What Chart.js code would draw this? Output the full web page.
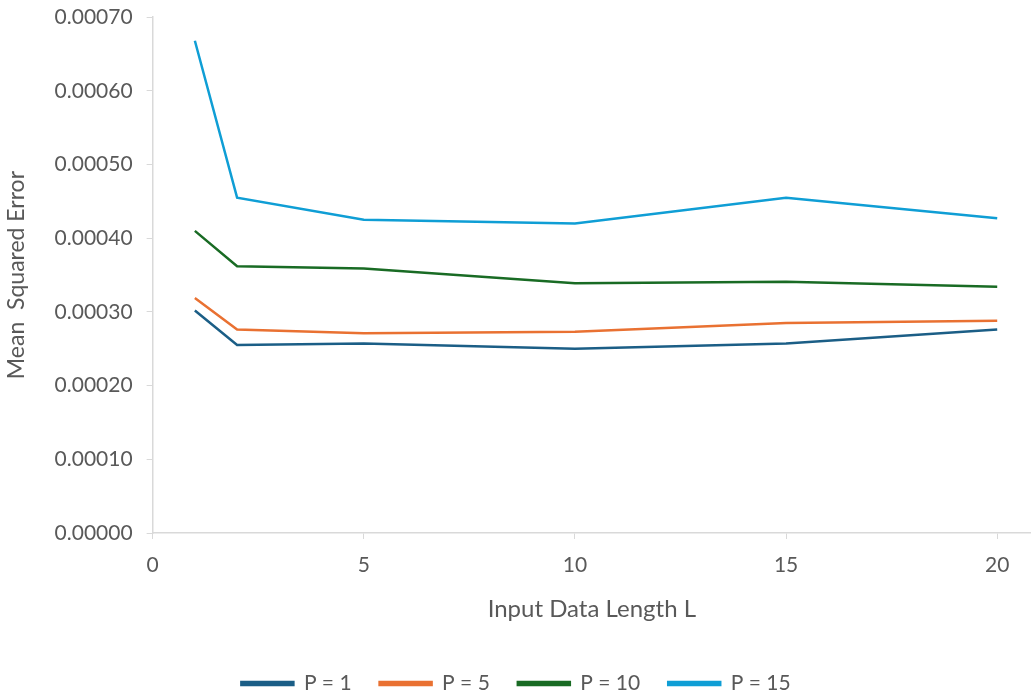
<!DOCTYPE html>
<html>
<head>
<meta charset="utf-8">
<script src="https://cdn.jsdelivr.net/npm/chart.js@4/dist/chart.umd.min.js"></script>
<style>
  html, body { margin: 0; padding: 0; background: #fff; }
  #wrap { width: 1031px; height: 696px; }
</style>
</head>
<body>
<div id="wrap"><canvas id="mseChart" width="1031" height="696"></canvas></div>
<script>
const lengths = [1, 2, 5, 10, 15, 20];
const p1 = [0.000302, 0.000255, 0.000257, 0.000250, 0.000257, 0.000276];
const p5 = [0.000319, 0.000276, 0.000271, 0.000273, 0.000285, 0.000288];
const p10 = [0.000410, 0.000362, 0.000359, 0.000339, 0.000341, 0.000334];
const p15 = [0.000668, 0.000455, 0.000425, 0.000420, 0.000455, 0.000427];
const seriesNames = ['P = 1', 'P = 5', 'P = 10', 'P = 15'];
const seriesColors = ['#1b5e86', '#e97132', '#196b24', '#0f9ed5'];

const toPoints = vals => lengths.map((x, i) => ({ x: x, y: vals[i] }));
const grey = '#d9d9d9';
const textGrey = '#595959';
const font = 'Lato, sans-serif';

const ctx = document.getElementById('mseChart').getContext('2d');
const mseChart = new Chart(ctx, {
  type: 'line',
  data: {
    datasets: [p1, p5, p10, p15].map((vals, i) => ({
      label: seriesNames[i],
      data: toPoints(vals),
      borderColor: seriesColors[i],
      backgroundColor: seriesColors[i],
      borderWidth: 2.5,
      pointRadius: 0,
      tension: 0,
      fill: false
    }))
  },
  options: {
    responsive: false,
    animation: false,
    layout: { padding: { top: 0, right: 0, left: 1, bottom: -8 } },
    plugins: {
      legend: {
        position: 'bottom',
        labels: {
          color: textGrey,
          font: { family: font, size: 21 },
          boxWidth: 52,
          boxHeight: 3,
          padding: 28
        }
      },
      tooltip: { enabled: false }
    },
    scales: {
      x: {
        type: 'linear',
        min: 0,
        max: 20.8,
        afterBuildTicks: axis => {
          axis.ticks = [0, 5, 10, 15, 20].map(v => ({ value: v }));
        },
        ticks: { color: textGrey, font: { family: font, size: 21 }, padding: 14 },
        grid: { drawOnChartArea: false, color: grey, tickLength: 6 },
        border: { color: grey, width: 1.5 },
        title: {
          display: true,
          text: 'Input Data Length L',
          color: textGrey,
          font: { family: font, size: 24 },
          padding: { top: 3, bottom: 21 }
        }
      },
      y: {
        min: 0,
        max: 0.0007,
        ticks: {
          stepSize: 0.0001,
          color: textGrey,
          font: { family: font, size: 21, lineHeight: 0.3 },
          padding: 14,
          callback: v => v.toFixed(5)
        },
        grid: { drawOnChartArea: false, color: grey, tickLength: 6 },
        border: { color: grey, width: 1.5 },
        title: {
          display: true,
          text: 'Mean  Squared Error',
          color: textGrey,
          font: { family: font, size: 23 },
          padding: { top: 2, bottom: 10 }
        }
      }
    }
  }
});
</script>
</body>
</html>
